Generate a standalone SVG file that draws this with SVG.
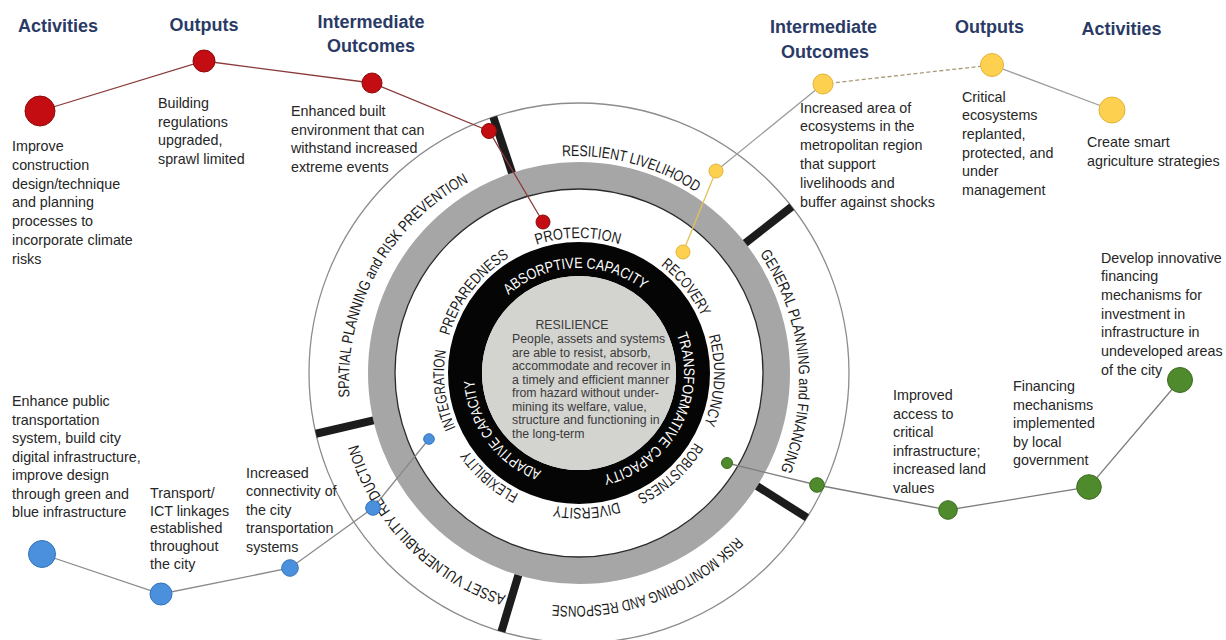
<svg xmlns="http://www.w3.org/2000/svg" width="1226" height="640" viewBox="0 0 1226 640">
<style>
.lbl{font-family:"Liberation Sans",Arial,sans-serif;font-size:15.5px;fill:#1a1a1a}
.wlbl{font-family:"Liberation Sans",Arial,sans-serif;font-size:15px;fill:#ffffff}
.body{font-family:"Liberation Sans",Arial,sans-serif;font-size:14.3px;fill:#262626}
.hdr{font-family:"Liberation Sans",Arial,sans-serif;font-size:18px;font-weight:bold;fill:#2a3a66;text-anchor:middle}
.ctr{font-family:"Liberation Sans",Arial,sans-serif;font-size:12.3px;fill:#3a3a3a}
.bar{stroke:#1c1c1c;stroke-width:8}
.red{fill:#c40d12;stroke:#8a0a0a;stroke-width:1}
.yel{fill:#fdd14f;stroke:#e2b43a;stroke-width:1}
.blu{fill:#4a90dc;stroke:#3473bb;stroke-width:1}
.grn{fill:#4f8a2c;stroke:#3c6b1f;stroke-width:1}
.cn{fill:none;stroke-width:1.3}
</style>
<defs>
<path id="p-res" d="M562.22,156.31 A225,225 0 0 1 698.51,193.59"/>
<path id="p-gen" d="M759.65,253.88 A225,225 0 0 1 779.23,473.23"/>
<path id="p-risk" d="M736.40,536.73 A225,225 0 0 1 549.31,604.64"/>
<path id="p-asset" d="M505.97,595.47 A225,225 0 0 1 357.18,441.13"/>
<path id="p-spatial" d="M349.58,397.09 A225,225 0 0 1 471.85,180.52"/>
<path id="p-prot" d="M536.61,244.83 A135,135 0 0 1 620.72,244.61"/>
<path id="p-rec" d="M660.81,265.61 A135,135 0 0 1 702.14,317.66"/>
<path id="p-red" d="M708.77,335.79 A135,135 0 0 1 703.27,425.75"/>
<path id="p-rob" d="M694.72,442.53 A135,135 0 0 1 636.05,495.35"/>
<path id="p-div" d="M618.47,502.10 A135,135 0 0 1 553.24,505.52"/>
<path id="p-flex" d="M518.76,493.82 A135,135 0 0 1 467.48,449.08"/>
<path id="p-int" d="M455.67,427.91 A135,135 0 0 1 446.05,349.56"/>
<path id="p-prep" d="M449.23,335.79 A135,135 0 0 1 510.48,256.68"/>
<path id="p-abs" d="M508.74,294.97 A105,105 0 0 1 645.08,291.40"/>
<path id="p-trans" d="M676.69,334.52 A105,105 0 0 1 599.93,475.89"/>
<path id="p-adapt" d="M541.37,471.03 A105,105 0 0 1 474.14,378.50"/>
</defs>
<rect width="1226" height="640" fill="#ffffff"/>

<g id="wheel">
<circle cx="579" cy="373" r="270" fill="#ffffff" stroke="#8c8c8c" stroke-width="1.3"/>
<circle cx="579" cy="373" r="197.5" fill="none" stroke="#a6a6a6" stroke-width="27"/>
<circle cx="579" cy="373" r="184" fill="#ffffff" stroke="#2a2a2a" stroke-width="1.3"/>
<circle cx="579" cy="373" r="114" fill="none" stroke="#050505" stroke-width="34"/>
<circle cx="579" cy="373" r="97" fill="#d3d3d0"/>
<line class="bar" x1="512.05" y1="172.90" x2="493.33" y2="116.95"/>
<line class="bar" x1="745.27" y1="243.10" x2="791.76" y2="206.77"/>
<line class="bar" x1="757.15" y1="486.06" x2="806.97" y2="517.67"/>
<line class="bar" x1="518.37" y1="575.10" x2="501.41" y2="631.61"/>
<line class="bar" x1="373.41" y1="420.46" x2="315.92" y2="433.74"/>
</g>

<g id="wheel-labels">
<text class="lbl"><textPath href="#p-res" textLength="141" lengthAdjust="spacingAndGlyphs">RESILIENT LIVELIHOOD</textPath></text>
<text class="lbl"><textPath href="#p-gen" textLength="227" lengthAdjust="spacingAndGlyphs">GENERAL PLANNING and FINANCING</textPath></text>
<text class="lbl"><textPath href="#p-risk" textLength="203" lengthAdjust="spacingAndGlyphs">RISK MONITORING AND RESPONSE</textPath></text>
<text class="lbl"><textPath href="#p-asset" textLength="220" lengthAdjust="spacingAndGlyphs">ASSET VULNERABILITY REDUCTION</textPath></text>
<text class="lbl"><textPath href="#p-spatial" textLength="260" lengthAdjust="spacingAndGlyphs">SPATIAL PLANNING and RISK PREVENTION</textPath></text>
<text class="lbl"><textPath href="#p-prot" textLength="84" lengthAdjust="spacingAndGlyphs">PROTECTION</textPath></text>
<text class="lbl"><textPath href="#p-rec" textLength="66" lengthAdjust="spacingAndGlyphs">RECOVERY</textPath></text>
<text class="lbl"><textPath href="#p-red" textLength="90" lengthAdjust="spacingAndGlyphs">REDUNDUNCY</textPath></text>
<text class="lbl"><textPath href="#p-rob" textLength="79" lengthAdjust="spacingAndGlyphs">ROBUSTNESS</textPath></text>
<text class="lbl"><textPath href="#p-div" textLength="65" lengthAdjust="spacingAndGlyphs">DIVERSITY</textPath></text>
<text class="lbl"><textPath href="#p-flex" textLength="67.5" lengthAdjust="spacingAndGlyphs">FLEXIBILITY</textPath></text>
<text class="lbl"><textPath href="#p-int" textLength="79" lengthAdjust="spacingAndGlyphs">INTEGRATION</textPath></text>
<text class="lbl"><textPath href="#p-prep" textLength="101" lengthAdjust="spacingAndGlyphs">PREPAREDNESS</textPath></text>
<text class="wlbl"><textPath href="#p-abs" textLength="146" lengthAdjust="spacingAndGlyphs">ABSORPTIVE CAPACITY</textPath></text>
<text class="wlbl"><textPath href="#p-trans" textLength="180" lengthAdjust="spacingAndGlyphs">TRANSFORMATIVE CAPACITY</textPath></text>
<text class="wlbl"><textPath href="#p-adapt" textLength="119" lengthAdjust="spacingAndGlyphs">ADAPTIVE CAPACITY</textPath></text>
</g>

<g id="resilience-core">
<text class="ctr" x="572" y="329" text-anchor="middle" font-size="9.5">RESILIENCE</text>
<text class="ctr" x="512" y="343">People, assets and systems</text>
<text class="ctr" x="512" y="356.5">are able to resist, absorb,</text>
<text class="ctr" x="512" y="370">accommodate and recover in</text>
<text class="ctr" x="512" y="383.5">a timely and efficient manner</text>
<text class="ctr" x="512" y="397">from hazard without under-</text>
<text class="ctr" x="512" y="410.5">mining its welfare, value,</text>
<text class="ctr" x="512" y="424">structure and functioning in</text>
<text class="ctr" x="512" y="437.5">the long-term</text>
</g>

<g id="headers">
<text class="hdr" x="58" y="32">Activities</text>
<text class="hdr" x="204" y="31">Outputs</text>
<text class="hdr" x="371" y="28">Intermediate</text>
<text class="hdr" x="371" y="52">Outcomes</text>
<text class="hdr" x="823.5" y="33">Intermediate</text>
<text class="hdr" x="825" y="58">Outcomes</text>
<text class="hdr" x="989.5" y="33">Outputs</text>
<text class="hdr" x="1121.5" y="35">Activities</text>
</g>

<g id="connectors">
<polyline class="cn" stroke="#8a3a3a" points="40,111 204,61 372,83 489,131 543,222"/>
<line class="cn" stroke="#e3c25a" x1="683" y1="252" x2="716" y2="171"/>
<line class="cn" stroke="#9c9c9c" x1="716" y1="171" x2="823" y2="84"/>
<line class="cn" stroke="#a89a78" stroke-dasharray="4,2.5" x1="823" y1="84" x2="992" y2="65"/>
<line class="cn" stroke="#9c9c9c" x1="992" y1="65" x2="1112" y2="110"/>
<polyline class="cn" stroke="#8a8a8a" points="42,554 161,594 290,568 373,508 429,439"/>
<polyline class="cn" stroke="#7d7d7d" points="727,463 817,485 948,510 1089,487 1180,380"/>
</g>

<g id="red-activity">
<circle class="red" cx="40" cy="111" r="15"/>
<text class="body"><tspan x="12" y="151">Improve</tspan><tspan x="12" y="169.8">construction</tspan><tspan x="12" y="188.6">design/technique</tspan><tspan x="12" y="207.4">and planning</tspan><tspan x="12" y="226.2">processes to</tspan><tspan x="12" y="245">incorporate climate</tspan><tspan x="12" y="263.8">risks</tspan></text>
</g>
<g id="red-output">
<circle class="red" cx="204" cy="61" r="11"/>
<text class="body"><tspan x="158" y="108">Building</tspan><tspan x="158" y="126.5">regulations</tspan><tspan x="158" y="145">upgraded,</tspan><tspan x="158" y="163.5">sprawl limited</tspan></text>
</g>
<g id="red-outcome">
<circle class="red" cx="372" cy="83" r="10"/>
<text class="body"><tspan x="291" y="116">Enhanced built</tspan><tspan x="291" y="134.5">environment that can</tspan><tspan x="291" y="153">withstand increased</tspan><tspan x="291" y="171.5">extreme events</tspan></text>
</g>
<g id="red-wheel-points">
<circle class="red" cx="489" cy="131" r="7.5"/>
<circle class="red" cx="543" cy="222" r="7"/>
</g>

<g id="yellow-outcome">
<circle class="yel" cx="823" cy="84" r="10"/>
<text class="body"><tspan x="800" y="112.5">Increased area of</tspan><tspan x="800" y="131.4">ecosystems in the</tspan><tspan x="800" y="150.3">metropolitan region</tspan><tspan x="800" y="169.2">that support</tspan><tspan x="800" y="188.1">livelihoods and</tspan><tspan x="800" y="207">buffer against shocks</tspan></text>
</g>
<g id="yellow-output">
<circle class="yel" cx="992" cy="65" r="11.5"/>
<text class="body"><tspan x="962" y="101.5">Critical</tspan><tspan x="962" y="120.2">ecosystems</tspan><tspan x="962" y="138.9">replanted,</tspan><tspan x="962" y="157.6">protected, and</tspan><tspan x="962" y="176.3">under</tspan><tspan x="962" y="195">management</tspan></text>
</g>
<g id="yellow-activity">
<circle class="yel" cx="1112" cy="110" r="13"/>
<text class="body"><tspan x="1087" y="147">Create smart</tspan><tspan x="1087" y="165.5">agriculture strategies</tspan></text>
</g>
<g id="yellow-wheel-points">
<circle class="yel" cx="716" cy="171" r="7"/>
<circle class="yel" cx="683" cy="252" r="7"/>
</g>

<g id="blue-activity">
<circle class="blu" cx="42" cy="554" r="13.5"/>
<text class="body"><tspan x="12" y="406">Enhance public</tspan><tspan x="12" y="424.5">transportation</tspan><tspan x="12" y="443">system, build city</tspan><tspan x="12" y="461.5">digital infrastructure,</tspan><tspan x="12" y="480">improve design</tspan><tspan x="12" y="498.5">through green and</tspan><tspan x="12" y="517">blue infrastructure</tspan></text>
</g>
<g id="blue-output">
<circle class="blu" cx="161" cy="594" r="11"/>
<text class="body"><tspan x="150" y="498">Transport/</tspan><tspan x="150" y="515.7">ICT linkages</tspan><tspan x="150" y="533.4">established</tspan><tspan x="150" y="551.1">throughout</tspan><tspan x="150" y="568.8">the city</tspan></text>
</g>
<g id="blue-outcome">
<circle class="blu" cx="290" cy="568" r="8.3"/>
<text class="body"><tspan x="246" y="477.5">Increased</tspan><tspan x="246" y="496">connectivity of</tspan><tspan x="246" y="514.5">the city</tspan><tspan x="246" y="533">transportation</tspan><tspan x="246" y="551.5">systems</tspan></text>
</g>
<g id="blue-wheel-points">
<circle class="blu" cx="373" cy="508" r="7.3"/>
<circle class="blu" cx="429" cy="439" r="5.3"/>
</g>

<g id="green-outcome">
<circle class="grn" cx="948" cy="510" r="9.3"/>
<text class="body"><tspan x="893" y="400">Improved</tspan><tspan x="893" y="418.5">access to</tspan><tspan x="893" y="437">critical</tspan><tspan x="893" y="455.5">infrastructure;</tspan><tspan x="893" y="474">increased land</tspan><tspan x="893" y="492.5">values</tspan></text>
</g>
<g id="green-output">
<circle class="grn" cx="1089" cy="487" r="12.3"/>
<text class="body"><tspan x="1013" y="391">Financing</tspan><tspan x="1013" y="409.5">mechanisms</tspan><tspan x="1013" y="428">implemented</tspan><tspan x="1013" y="446.5">by local</tspan><tspan x="1013" y="465">government</tspan></text>
</g>
<g id="green-activity">
<circle class="grn" cx="1180" cy="380" r="12.5"/>
<text class="body"><tspan x="1101" y="262.5">Develop innovative</tspan><tspan x="1101" y="281.2">financing</tspan><tspan x="1101" y="299.9">mechanisms for</tspan><tspan x="1101" y="318.6">investment in</tspan><tspan x="1101" y="337.3">infrastructure in</tspan><tspan x="1101" y="356">undeveloped areas</tspan><tspan x="1101" y="374.7">of the city</tspan></text>
</g>
<g id="green-wheel-points">
<circle class="grn" cx="817" cy="485" r="7.3"/>
<circle class="grn" cx="727" cy="463" r="5.5"/>
</g>
</svg>
